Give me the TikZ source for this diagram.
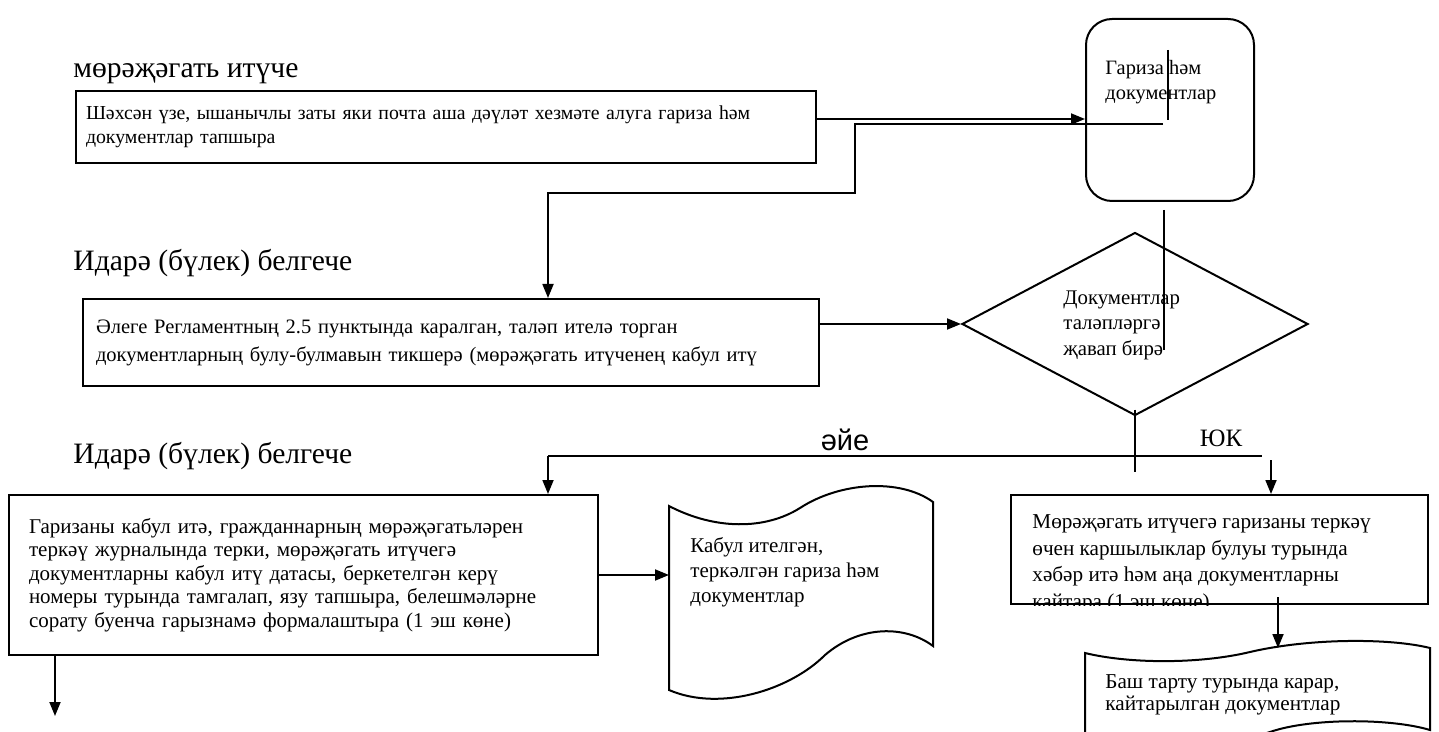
\documentclass[tikz,border=0pt]{standalone}
\usepackage{fontspec}
\setmainfont{Liberation Serif}
\newfontfamily\yesfont{Liberation Sans}
\usetikzlibrary{shapes.geometric,arrows.meta}

\begin{document}
\begin{tikzpicture}[x=0.5pt,y=-0.5pt,
  lane/.style={anchor=west,inner sep=0pt,font=\fontsize{14.8}{17}\selectfont},
  stepbox/.style={draw,line width=1pt,anchor=north west,align=left,inner ysep=0pt,font=\fontsize{10.5}{12}\selectfont},
  note/.style={anchor=north west,align=left,inner sep=0pt,font=\fontsize{10.5}{13}\selectfont},
  line/.style={line width=0.9pt},
  arr/.style={line width=0.9pt,-{Triangle[length=7pt,width=5.5pt]}}]
\clip (0,0) rectangle (1439,732);
% lanes
\node[lane] (lane1) at (73,74) {мөрәҗәгать итүче};
\node[lane] (lane2) at (73,263) {Идарә (бүлек) белгече};
\node[lane] (lane3) at (73,456) {Идарә (бүлек) белгече};

% applicant
\node[stepbox,inner xsep=5pt,text width=360pt,minimum height=36pt,font=\fontsize{9.9}{12}\selectfont] (apply) at (75,90)
  {Шәхсән үзе, ышанычлы заты яки почта аша дәүләт хезмәте алуга гариза һәм\\документлар тапшыра};
\node[draw,line width=1pt,rounded corners=13pt,anchor=north west,minimum width=84pt,minimum height=91pt,inner sep=0pt] (docs) at (1085,18) {};
\node[note,font=\fontsize{10.2}{12.5}\selectfont] (docstxt) at (1105,60) {Гариза һәм\\документлар};

% check
\node[stepbox,inner xsep=6.5pt,text width=355pt,minimum height=43.5pt,font=\fontsize{10.25}{14}\selectfont] (review) at (82,298)
  {Әлеге Регламентның 2.5 пунктында каралган, таләп ителә торган\\документларның булу-булмавын тикшерә (мөрәҗәгать итүченең кабул итү};
\node[diamond,draw,line width=1pt,minimum width=173pt,minimum height=91.5pt,inner sep=0pt] (check) at (1135,324) {};
\node[note,font=\fontsize{10.4}{12.75}\selectfont] (checktxt) at (1063,290) {Документлар\\таләпләргә\\җавап бирә};

% accept
\node[stepbox,inner xsep=10pt,text width=274.5pt,minimum height=80pt,font=\fontsize{10.5}{11.8}\selectfont] (accept) at (8,494)
  {Гаризаны кабул итә, гражданнарның мөрәҗәгатьләрен\\теркәү журналында терки, мөрәҗәгать итүчегә\\документларны кабул итү датасы, беркетелгән керү\\номеры турында тамгалап, язу тапшыра, белешмәләрне\\сорату буенча гарызнамә формалаштыра (1 эш көне)};
\draw[line width=1pt] (669,506) .. controls (715,530) and (765,530) .. (800,508)
  .. controls (840,482) and (900,478) .. (933,502) -- (933,646)
  .. controls (905,625) and (860,625) .. (825,655)
  .. controls (790,690) and (720,712) .. (669,690) -- cycle;
\coordinate (regd) at (669,578);
\node[note,font=\fontsize{10.5}{12.5}\selectfont] (regdtxt) at (690,537) {Кабул ителгән,\\теркәлгән гариза һәм\\документлар};

% refuse
\node[draw,line width=1pt,anchor=north west,minimum width=208.5pt,minimum height=54.5pt,inner sep=0pt] (refuse) at (1010,494) {};
\begin{scope}
\clip (refuse.north west) rectangle (refuse.south east);
\node[note,font=\fontsize{10.6}{13.4}\selectfont] (refusetxt) at (1032,514) {Мөрәҗәгать итүчегә гаризаны теркәү\\өчен каршылыклар булуы турында\\хәбәр итә һәм аңа документларны\\кайтара (1 эш көне)};
\end{scope}
\draw[line width=1pt] (1085,653) .. controls (1130,664) and (1200,664) .. (1250,652)
  .. controls (1310,638) and (1390,638) .. (1430,648) -- (1430,730)
  .. controls (1390,718) and (1310,718) .. (1270,732)
  .. controls (1220,748) and (1130,752) .. (1085,742) -- cycle;
\coordinate (back) at (1278,648);
\node[note,font=\fontsize{10.6}{11}\selectfont] (backtxt) at (1105,674) {Баш тарту турында карар,\\кайтарылган документлар};

% connectors
\draw[arr] ([yshift=4pt]apply.east) -- ([yshift=4pt]apply.east -| docs.west);
\coordinate (mark1) at (1168,50);
\coordinate (mark2) at (1168,120);
\draw[line] (mark1) -- (mark2);
\coordinate (stub) at (1163,124);
\coordinate (jog) at (855,124);
\coordinate (turn) at (548,193);
\draw[arr] (stub) -- (jog) |- (turn) -- (turn |- review.north);
\draw[arr] (check.west -| review.east) -- (check.west);
\draw[line] ([xshift=-3pt,yshift=-4pt]docs.south) -- ++(0,-70pt);
\draw[line] ([yshift=3.5pt]check.south) -- ++(0,-31pt);
\coordinate (yes) at (548,456);
\coordinate (no) at (1262,456);
\draw[line] (yes) -- (no);
\node[font=\yesfont\fontsize{14.5}{16}\selectfont,inner sep=0pt] (yeslbl) at (845,440) {әйе};
\node[font=\fontsize{12.5}{15}\selectfont,inner sep=0pt] (nolbl) at (1221,438) {ЮК};
\draw[arr] (yes) -- (yes |- accept.north);
\coordinate (noarr) at (1271,460);
\draw[arr] (noarr) -- (noarr |- refuse.north);
\draw[arr] (accept.east) -- (accept.east -| regd);
\coordinate (next) at (55,716);
\draw[arr] (accept.south -| next) -- (next);
\coordinate (refout) at (1278,597);
\draw[arr] (refout) -- (back);
\end{tikzpicture}
\end{document}
